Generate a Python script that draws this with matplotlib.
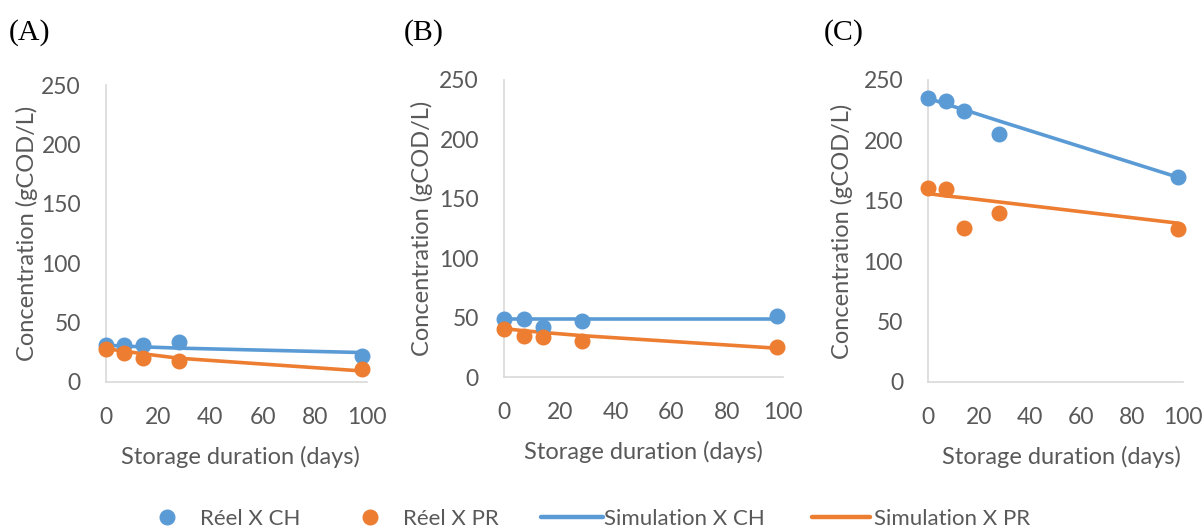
import matplotlib
matplotlib.use("Agg")
import matplotlib.pyplot as plt
from matplotlib.lines import Line2D

plt.rcParams['font.family'] = ['Lato', 'DejaVu Sans']

days = [0, 7, 14, 28, 98]

panel_labels = ["(A)", "(B)", "(C)"]

real_ch = [
    [30.9, 31.0, 31.5, 33.7, 21.9],
    [48.6, 48.6, 42.0, 47.0, 51.0],
    [235.4, 232.9, 224.3, 205.2, 169.3],
]
real_pr = [
    [28.0, 24.7, 20.5, 17.4, 11.2],
    [40.7, 34.3, 33.7, 30.3, 25.3],
    [160.8, 160.0, 127.6, 140.0, 127.0],
]
sim_ch = [
    [31.0, 30.2, 29.6, 28.5, 24.8],
    [48.6, 48.6, 48.6, 48.6, 48.6],
    [235.0, 230.0, 225.5, 216.0, 169.5],
]
sim_pr = [
    [28.0, 26.0, 23.8, 20.0, 9.3],
    [40.7, 39.0, 37.5, 34.8, 24.2],
    [156.0, 154.0, 152.5, 149.0, 131.5],
]

yticks = [0, 50, 100, 150, 200, 250]
xticks = [0, 20, 40, 60, 80, 100]
xlabel = "Storage duration (days)"
ylabel = "Concentration (gCOD/L)"
legend_labels = ["Réel X CH", "Réel X PR", "Simulation X CH", "Simulation X PR"]

BLUE = "#5B9BD5"
ORANGE = "#ED7D31"
TXT = "#595959"
AX = "#D9D9D9"

W, H = 1204, 532
fig = plt.figure(figsize=(W / 100, H / 100), dpi=100)

# pixel boxes: left, right, top, bottom
boxes = [(106, 367, 85, 382), (504, 783, 80, 377), (928, 1183, 80, 382)]
ylab_x = [-0.26, -0.254, -0.294]
xlab_pos = [(0.517, -0.215), (0.498, -0.215), (0.525, -0.212)]
plab_pos = [(9, 33), (404, 33), (824, 33)]

for i, (l, r, t, b) in enumerate(boxes):
    ax = fig.add_axes([l / W, 1 - b / H, (r - l) / W, (b - t) / H])
    ax.plot(days, sim_ch[i], color=BLUE, lw=2.6, solid_capstyle='round', zorder=2, clip_on=False)
    ax.plot(days, sim_pr[i], color=ORANGE, lw=2.6, solid_capstyle='round', zorder=2, clip_on=False)
    ax.plot(days, real_ch[i], 'o', color=BLUE, ms=10.5, zorder=3, clip_on=False)
    ax.plot(days, real_pr[i], 'o', color=ORANGE, ms=10.5, zorder=3, clip_on=False)
    ax.set_xlim(0, 100)
    ax.set_ylim(0, 250)
    ax.set_xticks(xticks)
    ax.set_yticks(yticks)
    for s in ['top', 'right']:
        ax.spines[s].set_visible(False)
    for s in ['left', 'bottom']:
        ax.spines[s].set_color(AX)
        ax.spines[s].set_linewidth(1.2)
    ax.tick_params(axis='both', length=0, labelsize=16.5, colors=TXT)
    ax.tick_params(axis='x', pad=18)
    ax.tick_params(axis='y', pad=18)
    ax.set_xlabel(xlabel, fontsize=17, color=TXT)
    ax.set_ylabel(ylabel, fontsize=17, color=TXT)
    ax.yaxis.set_label_coords(ylab_x[i], 0.5)
    ax.xaxis.set_label_coords(*xlab_pos[i])
    px, py = plab_pos[i]
    fig.text(px / W, 1 - py / H, panel_labels[i], fontsize=21.5, family='Liberation Serif',
             color='black', va='center', ha='left')

handles = [
    Line2D([], [], ls='none', marker='o', color=BLUE, ms=10.5),
    Line2D([], [], ls='none', marker='o', color=ORANGE, ms=10.5),
    Line2D([], [], color=BLUE, lw=3.2, solid_capstyle='round'),
    Line2D([], [], color=ORANGE, lw=3.2, solid_capstyle='round'),
]
# legend entries: (handle start px, handlelength, handletextpad)
entry_x = [156, 359, 541, 812]
entry_hl = [1.0, 1.0, 2.8, 2.6]
entry_pad = [1.0, 1.0, 0.05, 0.2]
for h, lab, x0, hl, hp in zip(handles, legend_labels, entry_x, entry_hl, entry_pad):
    leg = fig.legend([h], [lab], loc='center left', bbox_to_anchor=(x0 / W, 1 - 519 / H),
                     frameon=False, fontsize=16, handlelength=hl, handletextpad=hp,
                     borderpad=0, borderaxespad=0)
    for t in leg.get_texts():
        t.set_color(TXT)

fig.savefig("out.png", dpi=100, facecolor='white')
